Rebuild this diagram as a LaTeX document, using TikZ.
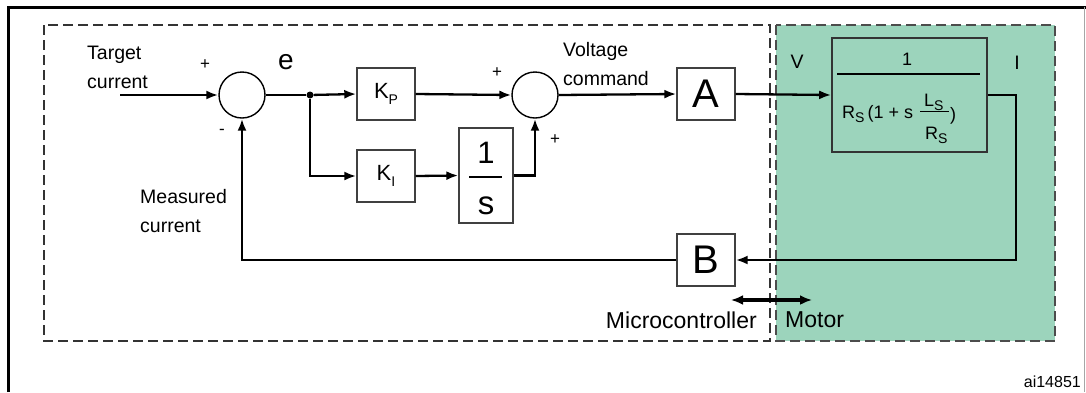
\documentclass[tikz,border=0pt]{standalone}
\usepackage{fontspec}
\setmainfont{Liberation Sans}
\usepackage{xcolor}
\usetikzlibrary{arrows.meta}
\definecolor{motorgreen}{RGB}{156,212,188}
\newcommand{\lowsub}[2]{\raisebox{-0.45ex}{\fontsize{#1}{#1}\selectfont #2}}

\begin{document}
\begin{tikzpicture}[x=1pt, y=-1pt,
  blk/.style={draw=black!75, line width=1.4pt, minimum width=58pt, minimum height=52pt, inner sep=0pt, font=\fontsize{40}{40}\selectfont},
  sumnode/.style={draw, circle, line width=1.4pt, minimum size=46pt, inner sep=0pt},
  arr/.style={-{Latex[length=12pt,width=9pt]}, line width=2.3pt},
  lbl/.style={align=left, inner sep=0pt, font=\fontsize{19.5}{29}\selectfont},
  sgn/.style={inner sep=0pt, font=\fontsize{17}{17}\selectfont},
  pfont/.style={inner sep=0pt, font=\fontsize{18}{18}\selectfont},
  zone/.style={dash pattern=on 10pt off 5pt, line width=1.8pt},
]
\useasboundingbox (0,0) rectangle (1086,392);
\draw[line width=3pt] (8,392) -- (8,7) -- (1086,7);
\draw[black!35, line width=1pt] (1084.5,7) -- (1084.5,392);

% the two zones
\draw[zone, draw=black!70, fill=motorgreen, line width=2.5pt] (776,25) rectangle (1055,341);
\draw[zone, draw=black!80] (44,25) rectangle (770,341);

\node[sumnode] (sum1) at (242,95) {};
\node[sumnode] (sum2) at (535,95) {};
\node[circle, fill, inner sep=0pt, minimum size=7pt] (split) at (310,95) {};
\node[blk, font=\fontsize{22}{22}\selectfont] (kp) at (386,94) {K\lowsub{14}{P}};
\node[blk, font=\fontsize{22}{22}\selectfont] (ki) at (386,176) {K\lowsub{14}{I}};
\node[blk, minimum width=54pt, minimum height=95pt] (integ) at (486,175.5) {};
\node[inner sep=0pt, font=\fontsize{31}{31}\selectfont] (intnum) at (486,153) {1};
\node[inner sep=0pt, font=\fontsize{33}{33}\selectfont] (intden) at (486,206) {s};
\draw[line width=1.4pt] (469,177) -- (502,177);
\node[blk] (ablk) at (706,94) {A};
\node[blk] (bblk) at (706,260) {B};

% motor model
\node[blk, draw=black!80, line width=1.6pt, minimum width=155pt, minimum height=114pt] (plant) at (909.5,95) {};
\node[pfont] (pnum) at (907,59) {1};
\draw[line width=1.4pt] (837,74) -- (980,74);
\node[pfont, anchor=base west] (pden) at (842,118) {R\lowsub{14}{S}\,(1 + s};
\node[pfont, anchor=base west] (pls) at (924,106) {L\lowsub{14}{S}};
\draw[line width=1pt] (920,111) -- (949,111);
\node[pfont, anchor=base west] (prs) at (925,139) {R\lowsub{14}{S}};
\node[pfont, anchor=base west] (prp) at (950,120) {)};

\coordinate (tin) at (120,95);
\coordinate (iout) at (1016,95);
\draw[arr] (tin) -- (sum1.west);
\draw[line width=2.3pt] (sum1.east) -- (split);
\draw[arr] (split) -- (kp.west);
\draw[arr] (split) |- (ki.west);
\draw[arr] (kp.east) -- (sum2.west);
\draw[arr] (ki.east) -- (integ.west);
\draw[arr] (integ.east) -| (sum2.south);
\draw[arr] (sum2.east) -- (ablk.west);
\draw[arr] (ablk.east) -- (plant.west);
\draw[arr] (plant.east) -- (iout) |- (bblk.east);
\draw[arr] (bblk.west) -| (sum1.south);

\node[lbl, anchor=west] (tgt) at (87,67) {Target\\current};
\node[lbl, anchor=west] (meas) at (140,211) {Measured\\current};
\node[lbl, anchor=west] (vcmd) at (563,64) {Voltage\\command};
\node[sgn] (p1) at (205,65) {+};
\node[sgn] (m1) at (222,132) {-};
\node[sgn] (p2) at (497,73) {+};
\node[sgn] (p3) at (555,140) {+};
\node[inner sep=0pt, font=\fontsize{28}{28}\selectfont] (err) at (286,62) {e};
\node[lbl] (vlbl) at (797,62) {V};
\node[lbl] (ilbl) at (1017,63) {I};

\coordinate (mcu) at (731,300);
\coordinate (mot) at (812,300);
\draw[{Latex[length=12pt,width=10pt]}-{Latex[length=12pt,width=10pt]}, line width=3.2pt] (mcu) -- (mot);
\node[inner sep=0pt, anchor=east, font=\fontsize{23}{23}\selectfont] (mculbl) at (757,320) {Microcontroller};
\node[inner sep=0pt, anchor=west, font=\fontsize{23}{23}\selectfont] (motlbl) at (785,320) {Motor};
\node[inner sep=0pt, anchor=east, font=\fontsize{16}{16}\selectfont] (ref) at (1081,382) {ai14851};
\end{tikzpicture}
\end{document}
